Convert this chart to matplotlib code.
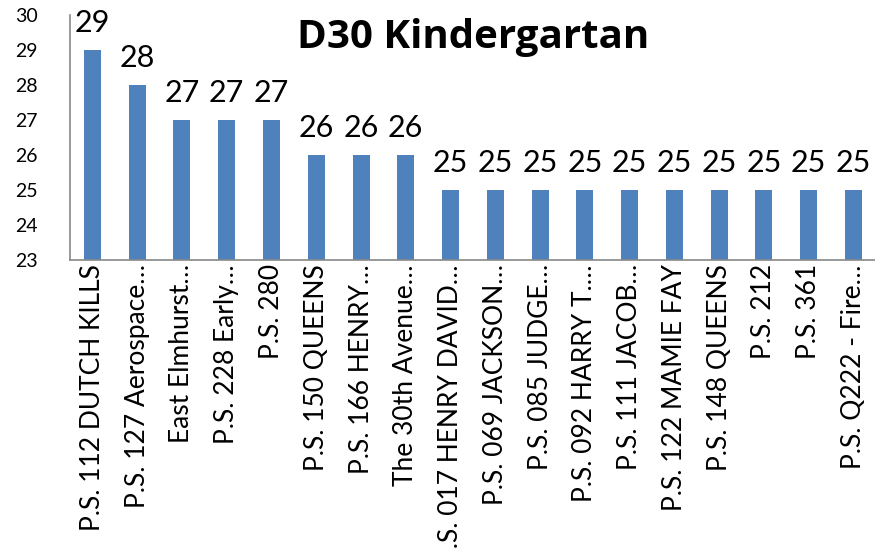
import matplotlib.pyplot as plt
import numpy as np

# school names (truncated as in the original chart)
schools = [
    'P.S. 112 DUTCH KILLS', 'P.S. 127 Aerospace…', 'East Elmhurst…',
    'P.S. 228 Early…', 'P.S. 280', 'P.S. 150 QUEENS', 'P.S. 166 HENRY…',
    'The 30th Avenue…', 'P.S. 017 HENRY DAVID…', 'P.S. 069 JACKSON…',
    'P.S. 085 JUDGE…', 'P.S. 092 HARRY T.…', 'P.S. 111 JACOB…',
    'P.S. 122 MAMIE FAY', 'P.S. 148 QUEENS', 'P.S. 212', 'P.S. 361',
    'P.S. Q222 - Fire…',
]
class_size = [29, 28, 27, 27, 27, 26, 26, 26, 25, 25, 25, 25, 25, 25, 25, 25, 25, 25]
y_ticks = [23, 24, 25, 26, 27, 28, 29, 30]

plt.rcParams['font.family'] = ['Lato', 'DejaVu Sans']

fig = plt.figure(figsize=(8.75, 5.49), dpi=100)
ax = fig.add_axes([0.08, 0.5264, 0.921, 0.4463])

x = np.arange(len(schools))
bars = ax.bar(x, class_size, width=0.38, color='#4F81BD')

# value labels above the bars
for xi, v in zip(x, class_size):
    ax.text(xi, v + 0.38, str(v), ha='center', va='bottom', fontsize=22)

ax.set_xlim(-0.5, len(schools) - 0.5)
ax.set_ylim(23, 30)
ax.set_yticks(y_ticks)
ax.set_xticks(x)
ax.set_xticklabels(schools, rotation=90, fontsize=19)
ax.tick_params(axis='y', length=0, labelsize=14, pad=23)
ax.tick_params(axis='x', length=0, pad=3)

for side in ['top', 'right']:
    ax.spines[side].set_visible(False)
for side in ['left', 'bottom']:
    ax.spines[side].set_color('#888888')
    ax.spines[side].set_linewidth(1.2)

ax.text(0.5, 0.865, 'D30 Kindergartan', transform=ax.transAxes,
        ha='center', va='baseline', fontsize=29, fontweight='bold',
        family=['Open Sans', 'DejaVu Sans'])

fig.savefig('out.png', dpi=100)
